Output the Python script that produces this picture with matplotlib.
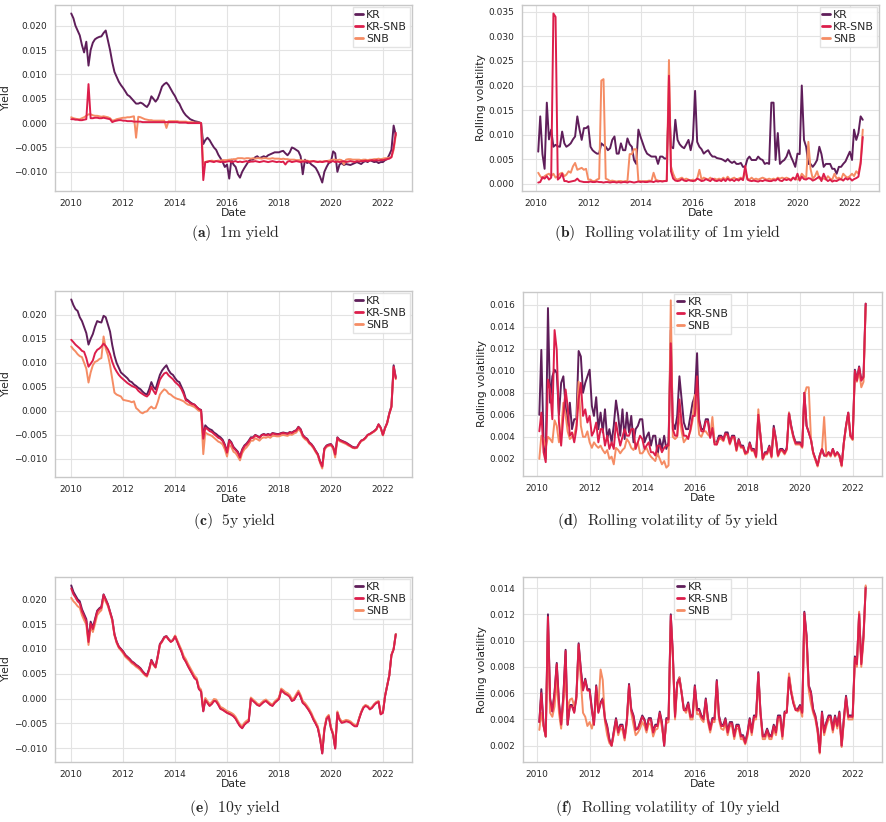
import numpy as np
import pandas as pd
import matplotlib
matplotlib.use('Agg')
import matplotlib.pyplot as plt
import matplotlib.dates as mdates
from matplotlib.ticker import MultipleLocator
import seaborn as sns

sns.set_style('whitegrid')
plt.rcParams['font.family'] = ['DejaVu Sans']
plt.rcParams['mathtext.fontset'] = 'cm'

# monthly samples, values in basis points (1e-4)
yield_dates = pd.date_range('2010-01-01', '2022-07-01', freq='MS')
vol_dates = pd.date_range('2010-02-01', '2022-07-01', freq='MS')

kr_1m = [
    225, 215, 200, 190, 180, 160, 145, 167, 118, 150, 165, 172,
    175, 177, 178, 185, 190, 170, 150, 125, 105, 95, 85, 78,
    72, 65, 58, 55, 50, 45, 40, 40, 42, 40, 36, 33,
    40, 55, 50, 44, 50, 62, 75, 80, 83, 78, 70, 62,
    55, 45, 40, 30, 22, 16, 12, 8, 6, 4, 3, 2,
    0, -43, -35, -30, -35, -43, -50, -55, -65, -72, -80, -90,
    -85, -114, -75, -85, -90, -105, -112, -100, -92, -85, -78, -75,
    -75, -70, -68, -72, -70, -68, -70, -66, -64, -62, -60, -60,
    -60, -58, -57, -62, -66, -60, -50, -52, -55, -58, -68, -105,
    -75, -82, -80, -85, -88, -92, -100, -110, -122, -100, -90, -82,
    -80, -58, -62, -100, -85, -82, -86, -84, -85, -86, -84, -82,
    -80, -82, -84, -80, -78, -80, -76, -78, -80, -79, -82, -80,
    -80, -76, -74, -65, -55, -5, -25,
]
kr_snb_1m = [
    8, 8, 7, 7, 6, 6, 7, 8, 80, 10, 10, 11,
    11, 10, 10, 11, 10, 9, 8, 2, 4, 5, 6, 6,
    5, 5, 4, 4, 4, 3, 3, 3, 3, 2, 2, 2,
    2, 2, 2, 2, 2, 2, 2, 2, 2, 2, 2, 2,
    2, 2, 1, 1, 1, 1, 0, 0, 0, 0, 0, 0,
    0, -117, -80, -80, -78, -79, -80, -78, -79, -80, -79, -80,
    -79, -78, -80, -79, -78, -80, -79, -80, -79, -78, -80, -79,
    -79, -78, -79, -80, -79, -78, -79, -80, -79, -78, -79, -80,
    -79, -80, -79, -85, -79, -78, -80, -79, -78, -79, -80, -79,
    -79, -78, -80, -79, -78, -79, -80, -79, -80, -79, -78, -80,
    -79, -78, -80, -79, -80, -79, -78, -80, -79, -78, -79, -80,
    -78, -79, -78, -78, -77, -78, -77, -76, -77, -76, -77, -76,
    -76, -75, -74, -73, -70, -50, -20,
]
snb_1m = [
    12, 10, 9, 8, 8, 10, 12, 15, 18, 18, 16, 15,
    15, 14, 13, 14, 13, 12, 10, 5, 6, 8, 9, 10,
    11, 11, 12, 12, 13, 14, -30, 13, 12, 10, 8, 7,
    6, 6, 5, 5, 5, 5, 5, 5, -10, 4, 4, 4,
    4, 4, 3, 3, 3, 3, 2, 2, 2, 1, 1, 1,
    0, -85, -80, -78, -78, -77, -78, -78, -77, -77, -76, -76,
    -76, -75, -75, -74, -74, -72, -72, -72, -73, -72, -72, -73,
    -72, -73, -72, -72, -73, -72, -72, -73, -73, -72, -73, -73,
    -73, -74, -73, -74, -74, -75, -75, -75, -76, -76, -76, -77,
    -77, -77, -78, -78, -78, -79, -79, -79, -79, -78, -78, -77,
    -76, -75, -75, -76, -75, -76, -85, -75, -74, -74, -75, -75,
    -75, -75, -76, -75, -75, -76, -75, -75, -74, -74, -73, -74,
    -73, -72, -72, -71, -70, -55, -25,
]

kr_vol_1m = [
    65, 137, 60, 30, 165, 90, 110, 75, 79, 76, 75,
    106, 82, 75, 78, 82, 90, 96, 137, 110, 89, 113, 113,
    117, 75, 68, 64, 61, 61, 82, 78, 75, 68, 72, 89,
    96, 61, 61, 82, 68, 68, 92, 80, 75, 48, 40, 110,
    95, 82, 70, 61, 58, 55, 55, 55, 40, 55, 55, 51,
    51, 168, 75, 72, 130, 89, 80, 75, 72, 80, 89, 68,
    90, 189, 85, 75, 70, 61, 65, 68, 60, 55, 55, 52,
    51, 50, 48, 45, 50, 45, 42, 45, 40, 40, 42, 34,
    34, 50, 55, 48, 48, 48, 55, 50, 48, 40, 42, 40,
    165, 165, 48, 103, 40, 45, 48, 55, 68, 55, 45, 34,
    61, 60, 200, 89, 75, 40, 40, 34, 40, 48, 75, 60,
    34, 40, 40, 40, 30, 30, 20, 34, 34, 40, 45, 55,
    65, 48, 110, 89, 103, 137, 130,
]
kr_snb_vol_1m = [
    2, 3, 13, 10, 15, 8, 12, 347, 340, 8, 12,
    20, 5, 5, 3, 4, 5, 6, 10, 5, 4, 3, 3,
    3, 4, 3, 3, 4, 3, 3, 2, 3, 3, 2, 3,
    3, 2, 3, 2, 3, 3, 2, 4, 3, 2, 3, 4,
    3, 4, 3, 3, 4, 4, 3, 5, 4, 5, 4, 5,
    5, 220, 25, 10, 6, 5, 6, 9, 6, 5, 7, 6,
    5, 6, 10, 8, 5, 6, 9, 7, 5, 10, 6, 5,
    7, 5, 9, 5, 10, 6, 8, 5, 9, 6, 10, 7,
    36, 8, 6, 5, 6, 5, 4, 6, 5, 7, 6, 5,
    5, 7, 6, 10, 6, 5, 9, 7, 9, 6, 12, 8,
    20, 6, 14, 9, 8, 11, 10, 6, 8, 11, 14, 5,
    20, 9, 5, 8, 4, 6, 5, 8, 9, 6, 11, 8,
    11, 6, 9, 11, 14, 40, 95,
]
snb_vol_1m = [
    22, 15, 10, 15, 18, 20, 15, 20, 12, 15, 20,
    22, 15, 18, 25, 22, 35, 42, 28, 30, 32, 28, 30,
    8, 8, 5, 5, 8, 10, 210, 213, 10, 8, 5, 6,
    5, 4, 5, 5, 4, 5, 5, 60, 60, 70, 70, 5,
    5, 4, 5, 5, 6, 5, 22, 8, 6, 5, 5, 5,
    6, 252, 35, 20, 10, 8, 10, 12, 8, 10, 8, 6,
    8, 6, 10, 28, 8, 12, 10, 8, 12, 8, 10, 8,
    10, 8, 12, 8, 14, 8, 10, 12, 8, 10, 12, 8,
    25, 10, 8, 12, 8, 10, 8, 10, 12, 10, 8, 10,
    8, 10, 8, 12, 10, 12, 10, 12, 10, 8, 12, 10,
    8, 10, 20, 15, 10, 85, 30, 10, 15, 25, 10, 12,
    10, 8, 15, 10, 8, 20, 10, 12, 8, 20, 15, 12,
    15, 20, 15, 25, 20, 45, 110,
]

kr_5y = [
    232, 220, 212, 208, 195, 187, 175, 162, 138, 150, 160, 175,
    187, 185, 184, 198, 195, 180, 165, 137, 115, 100, 90, 80,
    76, 72, 68, 62, 60, 55, 52, 48, 45, 40, 36, 34,
    45, 60, 50, 45, 60, 75, 84, 90, 95, 85, 78, 75,
    68, 62, 60, 50, 40, 25, 22, 18, 15, 13, 8, 4,
    2, -55, -30, -35, -38, -40, -45, -48, -52, -55, -60, -70,
    -85, -60, -65, -75, -80, -85, -95, -80, -72, -68, -62, -55,
    -55, -50, -52, -55, -50, -48, -50, -48, -50, -46, -47, -48,
    -48, -46, -45, -46, -47, -44, -45, -42, -40, -33, -38, -50,
    -55, -58, -65, -69, -75, -83, -90, -105, -115, -78, -72, -70,
    -69, -75, -90, -55, -60, -62, -64, -66, -69, -72, -75, -76,
    -76, -68, -62, -60, -56, -50, -48, -45, -42, -38, -28, -35,
    -50, -35, -25, -5, 10, 95, 70,
]
kr_snb_5y = [
    148, 143, 138, 134, 130, 125, 123, 110, 92, 98, 105, 120,
    127, 130, 134, 140, 135, 128, 118, 102, 90, 82, 75, 70,
    66, 62, 58, 55, 52, 50, 48, 42, 38, 35, 32, 30,
    35, 50, 42, 35, 50, 65, 72, 78, 80, 74, 70, 66,
    60, 56, 52, 45, 35, 22, 20, 16, 14, 13, 8, 4,
    1, -58, -35, -38, -42, -44, -48, -52, -56, -58, -63, -72,
    -87, -62, -67, -77, -82, -87, -97, -82, -74, -70, -64, -57,
    -56, -51, -53, -56, -51, -49, -51, -49, -51, -47, -48, -49,
    -49, -47, -46, -47, -48, -45, -46, -43, -41, -34, -39, -51,
    -56, -59, -66, -70, -76, -84, -91, -106, -116, -79, -73, -71,
    -70, -76, -91, -56, -61, -63, -65, -67, -70, -73, -76, -77,
    -76, -68, -62, -60, -56, -50, -48, -45, -42, -38, -28, -35,
    -50, -35, -26, -6, 8, 92, 68,
]
snb_5y = [
    134, 128, 124, 118, 114, 112, 100, 88, 59, 80, 95, 102,
    104, 108, 110, 155, 130, 116, 95, 66, 38, 34, 32, 30,
    23, 22, 21, 20, 18, 20, 6, 2, -3, -5, -2, -1,
    5, 9, 5, 6, 18, 34, 40, 45, 42, 36, 34, 30,
    27, 25, 24, 22, 20, 16, 13, 12, 10, 8, 4, 0,
    -1, -90, -45, -48, -50, -52, -56, -60, -64, -66, -70, -80,
    -95, -70, -75, -85, -88, -95, -103, -88, -80, -76, -70, -62,
    -62, -57, -59, -62, -57, -55, -56, -54, -56, -52, -52, -53,
    -53, -51, -50, -51, -52, -49, -50, -47, -45, -38, -43, -54,
    -59, -62, -68, -72, -78, -86, -93, -108, -120, -81, -75, -73,
    -72, -78, -97, -58, -63, -65, -67, -69, -72, -74, -77, -78,
    -77, -69, -63, -61, -57, -51, -49, -46, -43, -39, -29, -36,
    -51, -36, -26, -6, 8, 90, 66,
]

kr_vol_5y = [
    60, 119, 35, 20, 157, 71, 95, 101, 98, 60, 89,
    95, 68, 50, 71, 47, 56, 56, 118, 113, 80, 89, 95,
    101, 68, 59, 76, 47, 62, 44, 65, 38, 47, 35, 50,
    73, 59, 41, 65, 38, 62, 44, 59, 35, 47, 50, 56,
    56, 35, 40, 44, 32, 41, 41, 23, 38, 29, 41, 29,
    35, 137, 53, 47, 59, 95, 74, 53, 47, 47, 59, 71,
    77, 116, 56, 47, 47, 56, 56, 41, 50, 35, 35, 41,
    41, 38, 44, 44, 35, 41, 41, 29, 38, 32, 32, 26,
    26, 35, 29, 29, 23, 60, 41, 20, 26, 26, 32, 23,
    50, 38, 23, 29, 29, 26, 30, 62, 50, 41, 35, 35,
    35, 32, 80, 50, 44, 38, 26, 20, 14, 23, 29, 23,
    23, 26, 23, 29, 23, 26, 23, 14, 35, 50, 62, 41,
    38, 101, 92, 104, 92, 95, 161,
]
kr_snb_vol_5y = [
    45, 62, 26, 17, 92, 83, 56, 137, 119, 53, 32,
    59, 83, 68, 41, 44, 35, 47, 74, 89, 59, 65, 53,
    59, 41, 45, 53, 35, 47, 47, 32, 41, 29, 35, 29,
    53, 41, 32, 40, 47, 41, 41, 47, 47, 29, 35, 41,
    38, 29, 32, 35, 26, 26, 23, 32, 32, 26, 30, 32,
    32, 125, 47, 41, 41, 74, 53, 41, 41, 38, 47, 59,
    59, 95, 54, 45, 45, 54, 54, 39, 48, 33, 33, 39,
    40, 37, 43, 42, 34, 40, 40, 28, 37, 31, 31, 25,
    26, 34, 28, 28, 22, 60, 40, 20, 25, 25, 31, 22,
    48, 37, 23, 28, 28, 25, 29, 61, 49, 40, 34, 34,
    34, 31, 80, 50, 44, 37, 26, 20, 14, 23, 29, 23,
    23, 26, 23, 29, 23, 26, 23, 14, 35, 50, 62, 41,
    38, 100, 91, 103, 91, 94, 161,
]
snb_vol_5y = [
    20, 41, 38, 30, 40, 38, 35, 55, 50, 35, 45,
    71, 60, 45, 38, 40, 42, 50, 90, 50, 40, 40, 45,
    35, 30, 35, 32, 30, 32, 28, 25, 28, 20, 22, 15,
    30, 28, 25, 28, 30, 38, 35, 30, 28, 32, 35, 25,
    25, 28, 30, 25, 22, 20, 18, 25, 20, 15, 18, 12,
    14, 164, 40, 38, 40, 60, 45, 35, 38, 40, 45, 55,
    78, 65, 42, 40, 45, 45, 42, 40, 58, 35, 33, 38,
    38, 36, 42, 41, 33, 39, 39, 27, 36, 30, 30, 24,
    25, 33, 27, 27, 21, 65, 40, 19, 24, 24, 30, 21,
    47, 36, 22, 27, 27, 24, 28, 62, 48, 39, 33, 33,
    33, 30, 78, 85, 85, 38, 25, 19, 13, 22, 28, 58,
    22, 25, 22, 28, 22, 25, 22, 13, 34, 49, 61, 40,
    37, 98, 90, 100, 85, 90, 158,
]

kr_10y = [
    228, 215, 208, 200, 196, 180, 170, 160, 118, 155, 143, 160,
    177, 182, 185, 210, 200, 190, 175, 160, 130, 115, 105, 100,
    95, 88, 84, 80, 75, 72, 68, 65, 61, 55, 50, 47,
    60, 78, 70, 64, 85, 110, 116, 124, 126, 120, 115, 118,
    126, 115, 105, 95, 82, 75, 66, 58, 50, 42, 38, 20,
    15, -25, -2, -8, -14, -10, -4, -5, -12, -20, -22, -25,
    -28, -30, -32, -35, -40, -48, -55, -59, -52, -48, -45, 0,
    -4, -8, -12, -14, -10, -6, -4, -8, -12, -14, -8, -4,
    0, 18, 14, 10, 8, 4, -4, -2, 6, 13, 4, -8,
    -12, -18, -24, -32, -42, -50, -59, -80, -110, -62, -40, -35,
    -59, -72, -100, -28, -42, -48, -47, -45, -46, -48, -52, -55,
    -55, -40, -28, -18, -14, -16, -21, -18, -12, -8, -6, -31,
    -28, 6, 25, 47, 88, 100, 130,
]
kr_snb_10y = [
    222, 210, 204, 196, 192, 176, 166, 156, 114, 151, 140, 157,
    175, 180, 183, 209, 199, 189, 174, 159, 129, 114, 104, 99,
    94, 87, 83, 79, 74, 71, 67, 64, 60, 54, 49, 46,
    59, 77, 69, 63, 84, 109, 115, 123, 125, 119, 114, 117,
    125, 114, 104, 94, 81, 74, 65, 57, 49, 41, 37, 19,
    14, -26, -3, -9, -15, -11, -5, -6, -13, -21, -23, -26,
    -29, -31, -33, -36, -41, -49, -56, -60, -53, -49, -46, -1,
    -5, -9, -13, -15, -11, -7, -5, -9, -13, -15, -9, -5,
    -1, 17, 13, 9, 7, 3, -5, -3, 5, 12, 3, -9,
    -13, -19, -25, -33, -43, -51, -60, -81, -111, -63, -41, -36,
    -60, -73, -101, -29, -43, -49, -48, -46, -47, -49, -53, -56,
    -56, -41, -29, -19, -15, -17, -22, -19, -13, -9, -7, -32,
    -29, 5, 24, 46, 87, 99, 129,
]
snb_10y = [
    203, 196, 192, 186, 183, 168, 158, 149, 108, 145, 134, 150,
    168, 174, 178, 204, 195, 186, 172, 157, 127, 112, 102, 97,
    91, 84, 80, 76, 71, 68, 64, 61, 57, 52, 47, 44,
    57, 75, 68, 62, 83, 108, 114, 122, 125, 119, 115, 118,
    127, 117, 108, 98, 86, 79, 70, 62, 54, 46, 41, 23,
    18, -22, 1, -5, -11, -7, -1, -2, -9, -17, -19, -22,
    -25, -27, -29, -32, -37, -45, -52, -56, -49, -45, -42, 2,
    -2, -6, -10, -12, -8, -4, -2, -6, -10, -12, -6, -2,
    2, 20, 17, 13, 11, 7, -1, 1, 9, 16, 7, -5,
    -9, -15, -21, -29, -39, -47, -56, -77, -107, -59, -38, -33,
    -57, -70, -98, -26, -40, -46, -45, -43, -44, -46, -50, -53,
    -54, -39, -27, -17, -13, -15, -20, -17, -11, -7, -5, -30,
    -27, 6, 25, 47, 88, 100, 130,
]

kr_vol_10y = [
    38, 63, 36, 27, 120, 56, 46, 61, 83, 53, 36,
    58, 93, 36, 51, 51, 46, 58, 98, 78, 63, 71, 63,
    63, 48, 36, 66, 46, 53, 56, 41, 35, 25, 20, 31,
    41, 31, 36, 36, 26, 40, 67, 48, 43, 33, 33, 38,
    43, 40, 33, 41, 41, 31, 36, 36, 46, 38, 20, 41,
    41, 120, 91, 43, 68, 72, 61, 48, 48, 53, 43, 43,
    66, 48, 48, 43, 41, 56, 41, 33, 41, 41, 70, 43,
    36, 36, 41, 31, 38, 38, 28, 36, 36, 28, 28, 23,
    30, 41, 31, 43, 43, 76, 46, 28, 28, 33, 28, 28,
    36, 31, 43, 43, 28, 46, 46, 73, 61, 53, 48, 48,
    51, 46, 122, 104, 66, 61, 48, 43, 33, 15, 46, 31,
    38, 43, 43, 33, 43, 36, 46, 20, 41, 58, 43, 43,
    43, 88, 83, 121, 83, 104, 141,
]
kr_snb_vol_10y = [
    38, 60, 35, 27, 118, 55, 46, 60, 82, 52, 36,
    57, 92, 36, 50, 50, 45, 57, 97, 77, 62, 70, 62,
    62, 47, 36, 65, 45, 52, 55, 40, 34, 24, 20, 30,
    40, 30, 35, 35, 26, 39, 66, 47, 42, 32, 33, 37,
    42, 39, 32, 40, 40, 30, 35, 35, 45, 37, 20, 40,
    40, 119, 90, 42, 67, 71, 60, 47, 47, 52, 42, 42,
    65, 47, 47, 42, 40, 55, 40, 32, 40, 40, 69, 42,
    35, 35, 40, 30, 37, 37, 27, 35, 35, 27, 27, 22,
    29, 40, 30, 42, 42, 75, 45, 27, 27, 32, 27, 27,
    35, 30, 42, 42, 27, 45, 45, 72, 60, 52, 47, 47,
    50, 45, 121, 103, 65, 60, 47, 42, 32, 15, 45, 30,
    37, 42, 42, 32, 42, 35, 45, 20, 40, 57, 42, 42,
    42, 87, 82, 120, 82, 103, 140,
]
snb_vol_10y = [
    32, 45, 35, 27, 110, 45, 42, 50, 70, 45, 33,
    52, 72, 48, 55, 56, 50, 55, 95, 70, 45, 42, 35,
    38, 33, 40, 55, 50, 78, 70, 38, 28, 22, 20, 28,
    38, 28, 33, 32, 24, 37, 64, 45, 36, 28, 30, 33,
    38, 35, 30, 37, 36, 27, 32, 33, 42, 34, 22, 37,
    38, 115, 88, 40, 66, 72, 60, 48, 45, 50, 40, 40,
    62, 44, 44, 40, 38, 52, 38, 30, 38, 38, 66, 40,
    33, 32, 37, 28, 35, 35, 25, 33, 33, 25, 25, 21,
    27, 38, 28, 40, 40, 74, 43, 25, 25, 30, 25, 25,
    32, 28, 40, 40, 25, 44, 47, 75, 62, 54, 48, 46,
    48, 42, 118, 100, 62, 52, 45, 40, 30, 14, 42, 28,
    35, 40, 40, 30, 40, 33, 42, 19, 38, 55, 40, 40,
    40, 85, 80, 122, 80, 100, 142,
]

series_names = ['KR', 'KR-SNB', 'SNB']
colors = {'KR': '#5f1e5a', 'KR-SNB': '#dc1e4b', 'SNB': '#f58c64'}
zorders = {'KR': 2, 'KR-SNB': 4, 'SNB': 3}

fig = plt.figure(figsize=(8.86, 8.22), dpi=100)

W, H = 886.0, 822.0
def rect(x0, y0, x1, y1):
    return [x0 / W, 1 - y1 / H, (x1 - x0) / W, (y1 - y0) / H]

panels = [
    (rect(55, 5, 412, 191), yield_dates, [kr_1m, kr_snb_1m, snb_1m], 'Yield', 0.005, 'upper right',
     r'$\mathbf{(a)}\ \ \mathrm{1m\ yield}$', (235, 233)),
    (rect(522, 5, 879, 191), vol_dates, [kr_vol_1m, kr_snb_vol_1m, snb_vol_1m], 'Rolling volatility', 0.005, 'upper right',
     r'$\mathbf{(b)}\ \ \mathrm{Rolling\ volatility\ of\ 1m\ yield}$', (668, 233)),
    (rect(55, 291, 412, 477), yield_dates, [kr_5y, kr_snb_5y, snb_5y], 'Yield', 0.005, 'upper right',
     r'$\mathbf{(c)}\ \ \mathrm{5y\ yield}$', (235, 521)),
    (rect(523, 292, 882, 476), vol_dates, [kr_vol_5y, kr_snb_vol_5y, snb_vol_5y], 'Rolling volatility', 0.002, 'upper center',
     r'$\mathbf{(d)}\ \ \mathrm{Rolling\ volatility\ of\ 5y\ yield}$', (668, 521)),
    (rect(55, 577, 412, 762), yield_dates, [kr_10y, kr_snb_10y, snb_10y], 'Yield', 0.005, 'upper right',
     r'$\mathbf{(e)}\ \ \mathrm{10y\ yield}$', (235, 808)),
    (rect(523, 577, 882, 762), vol_dates, [kr_vol_10y, kr_snb_vol_10y, snb_vol_10y], 'Rolling volatility', 0.002, 'upper center',
     r'$\mathbf{(f)}\ \ \mathrm{Rolling\ volatility\ of\ 10y\ yield}$', (668, 808)),
]

for box, dates, data, ylabel, step, loc, caption, cpos in panels:
    ax = fig.add_axes(box)
    for name, vals in zip(series_names, data):
        ax.plot(dates, np.array(vals) / 1e4, color=colors[name], lw=1.4,
                label=name, zorder=zorders[name])
    ax.xaxis.set_major_locator(mdates.YearLocator(2))
    ax.xaxis.set_major_formatter(mdates.DateFormatter('%Y'))
    ax.yaxis.set_major_locator(MultipleLocator(step))
    ax.tick_params(labelsize=6.5, pad=2, colors='#262626')
    ax.grid(color='#e3e3e3', lw=0.8)
    for sp in ax.spines.values():
        sp.set_color('#c8c8c8')
        sp.set_linewidth(1.0)
    ax.set_xlabel('Date', fontsize=7.8, labelpad=0)
    ax.set_ylabel(ylabel, fontsize=7.8, labelpad=2)
    leg = ax.legend(loc=loc, fontsize=7.8, handlelength=0.7, handletextpad=0.3,
                    labelspacing=0.2, borderpad=0.25, borderaxespad=0.2,
                    fancybox=False, framealpha=0.9, edgecolor='#e0e0e0')
    for h in leg.get_lines():
        h.set_linewidth(2.0)
    fig.text(cpos[0] / W, 1 - cpos[1] / H, caption, ha='center', va='center', fontsize=11.3)

fig.savefig('out.png', dpi=100)
